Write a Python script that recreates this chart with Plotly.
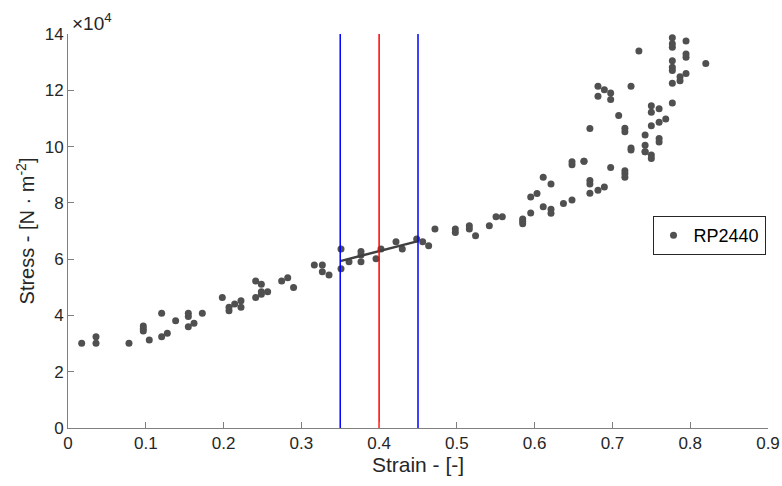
import plotly.graph_objects as go

# measured samples (strain [-], stress [1e4 N/m^2])
strain = [0.0176, 0.036, 0.036, 0.0784, 0.0968, 0.0968, 0.0968, 0.1045, 0.1204, 0.1204,
          0.1277, 0.1384, 0.1547, 0.1547, 0.1547, 0.162, 0.1727, 0.1984, 0.207, 0.207,
          0.2143, 0.2224, 0.2224, 0.2413, 0.2413, 0.2486, 0.2486, 0.2486, 0.2567, 0.2747,
          0.2825, 0.29, 0.3167, 0.327, 0.327, 0.3356, 0.351, 0.351, 0.3613, 0.3767,
          0.3767, 0.3767, 0.396, 0.4024, 0.4217, 0.4298, 0.4483, 0.456, 0.4637, 0.4718,
          0.498, 0.498, 0.516, 0.516, 0.524, 0.5417, 0.5503, 0.5584, 0.5846, 0.5846,
          0.5846, 0.5949, 0.5949, 0.603, 0.611, 0.611, 0.621, 0.621, 0.621, 0.637,
          0.648, 0.648, 0.648, 0.6634, 0.6634, 0.671, 0.671, 0.671, 0.671, 0.6814,
          0.6814, 0.6814, 0.6896, 0.6896, 0.6977, 0.6977, 0.6977, 0.708, 0.716, 0.716,
          0.716, 0.716, 0.716, 0.7239, 0.7239, 0.7239, 0.734, 0.742, 0.742, 0.742,
          0.742, 0.75, 0.75, 0.75, 0.75, 0.75, 0.76, 0.76, 0.76, 0.76,
          0.7685, 0.777, 0.777, 0.777, 0.777, 0.777, 0.777, 0.777, 0.777, 0.7869,
          0.7869, 0.7946, 0.7946, 0.7946, 0.7946, 0.820]
stress = [3.01, 3.24, 3.01, 3.01, 3.62, 3.53, 3.45, 3.13, 4.08, 3.24,
          3.37, 3.81, 4.08, 3.96, 3.60, 3.72, 4.08, 4.64, 4.29, 4.17,
          4.41, 4.52, 4.29, 5.22, 4.64, 5.11, 4.84, 4.75, 4.84, 5.22,
          5.34, 4.99, 5.79, 5.79, 5.55, 5.44, 6.36, 5.66, 5.91, 6.27,
          6.15, 5.91, 6.01, 6.36, 6.62, 6.36, 6.72, 6.62, 6.48, 7.07,
          7.07, 6.95, 7.19, 7.07, 6.83, 7.19, 7.51, 7.51, 7.43, 7.35,
          7.26, 7.64, 8.21, 8.33, 8.91, 7.86, 8.67, 7.77, 7.63, 7.98,
          8.10, 9.46, 9.35, 9.48, 9.48, 8.79, 8.67, 8.34, 10.64, 8.45,
          12.14, 11.79, 8.56, 12.02, 9.26, 11.90, 11.67, 11.10, 9.14, 9.03,
          8.91, 10.65, 10.53, 9.88, 9.95, 12.14, 13.40, 9.82, 10.41, 10.05,
          9.82, 9.70, 9.58, 11.45, 11.22, 10.74, 11.34, 10.86, 10.29, 10.16,
          10.98, 13.87, 13.65, 13.53, 13.05, 12.82, 12.70, 12.25, 11.55, 12.48,
          12.34, 13.75, 13.29, 13.17, 12.60, 12.95]

fit_strain = [0.35, 0.45]
fit_stress = [5.93, 6.64]

bounds = [0.35, 0.45]
centre = 0.40

x_ticks = [0, 0.1, 0.2, 0.3, 0.4, 0.5, 0.6, 0.7, 0.8, 0.9]
y_ticks = [0, 2, 4, 6, 8, 10, 12, 14]

fnt = 'Liberation Sans, Arial'
txt = '#262626'

fig = go.Figure()

fig.add_trace(go.Scatter(x=strain, y=stress, mode='markers', name='RP2440',
                         marker=dict(color='#505050', size=7, symbol='circle')))
fig.add_trace(go.Scatter(x=fit_strain, y=fit_stress, mode='lines', showlegend=False,
                         line=dict(color='#404040', width=2.5)))

for b in bounds:
    fig.add_trace(go.Scatter(x=[b, b], y=[0, 14], mode='lines', showlegend=False,
                             line=dict(color='#0000ff', width=1.5)))
fig.add_trace(go.Scatter(x=[centre, centre], y=[0, 14], mode='lines', showlegend=False,
                         line=dict(color='#ff0000', width=1.5)))

fig.update_xaxes(range=[0, 0.9], tickvals=x_ticks, ticktext=[f'{v:g}' for v in x_ticks],
                 ticks='inside', ticklen=6, tickcolor='#808080', showline=True,
                 linecolor='#808080', linewidth=1, showgrid=False, zeroline=False,
                 automargin=False, tickfont=dict(family=fnt, size=17, color=txt),
                 title=dict(text='Strain - [-]', font=dict(family=fnt, size=21, color=txt), standoff=4))
fig.update_yaxes(range=[0, 14], tickvals=y_ticks, ticks='inside', ticklen=6,
                 tickcolor='#808080', showline=True, linecolor='#808080', linewidth=1,
                 showgrid=False, zeroline=False, automargin=False,
                 tickfont=dict(family=fnt, size=17, color=txt),
                 title=dict(text='Stress - [N · m<sup>-2</sup>]', font=dict(family=fnt, size=20, color=txt), standoff=4))

fig.add_annotation(xref='paper', yref='paper', x=0.0, y=1.0, xanchor='left', yanchor='bottom',
                   text='×10<sup>4</sup>', showarrow=False, xshift=2, yshift=-2,
                   font=dict(family=fnt, size=19, color=txt))

fig.update_layout(width=782, height=486, plot_bgcolor='white', paper_bgcolor='white',
                  margin=dict(l=68, r=14, t=34, b=58),
                  legend=dict(x=0.835, y=0.538, xanchor='left', yanchor='top',
                              bordercolor='#262626', borderwidth=1, bgcolor='white',
                              font=dict(family=fnt, size=18, color='#000000'),
                              itemwidth=30, tracegroupgap=0))

# drop the default page margin so the figure fills the window exactly
fig.write_html("out.html", config={'displayModeBar': False},
               post_script="document.body.style.margin='0';")
